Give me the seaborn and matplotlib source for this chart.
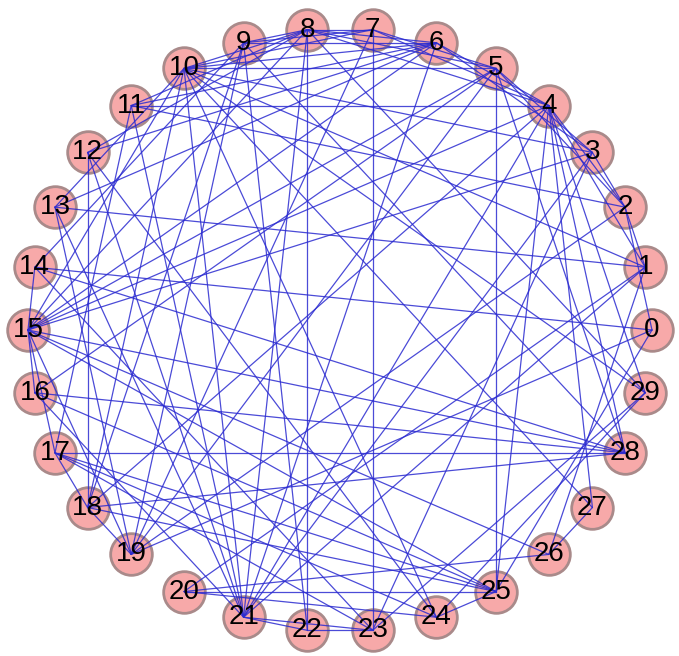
import numpy as np
import pandas as pd
import seaborn as sns
import matplotlib.pyplot as plt

# node ids, placed on a ring (node 0 at the right, counter-clockwise)
nodes = list(range(30))

# edges (src[i] -- dst[i])
src = [8, 8, 8, 8, 8, 8, 8, 8, 8, 8, 8,
       9, 9, 9, 9, 9, 9, 9,
       10, 10, 10, 10, 10, 10, 10, 10, 10, 10, 10, 10,
       11, 11, 11, 11, 11,
       12, 12, 12, 12,
       13, 13, 13, 13,
       14, 14, 14, 14,
       15, 15, 15, 15, 15, 15, 15, 15, 15, 15, 15,
       16, 16, 16, 16,
       17, 17, 17, 17, 17,
       18, 18, 18, 18,
       19, 19, 19, 19,
       20, 20, 20, 20,
       21, 21, 21, 21, 21, 21,
       22,
       23, 23, 23,
       24, 24,
       25, 25, 25,
       26, 26,
       27,
       28, 28,
       29,
       0, 1, 1, 2, 2, 2, 3, 3, 4, 4, 5]
dst = [9, 10, 11, 12, 7, 6, 5, 4, 22, 21, 29,
       7, 6, 18, 22, 14, 28, 19,
       7, 6, 5, 29, 27, 18, 21, 24, 13, 1, 3, 15,
       6, 2, 21, 17, 4,
       18, 6, 21, 24,
       1, 6, 21, 19,
       0, 15, 23, 28,
       16, 6, 5, 4, 3, 8, 28, 26, 25, 19, 17,
       5, 25, 28, 21,
       28, 25, 18, 24, 23,
       28, 25, 19, 4,
       7, 5, 2, 0,
       25, 24, 26, 1,
       22, 23, 3, 6, 4, 1,
       23,
       7, 3, 29,
       25, 29,
       5, 4, 0,
       27, 1,
       4,
       5, 4,
       4,
       2, 2, 4, 3, 5, 4, 5, 6, 6, 7, 7]

# ring layout in pixel space of the 679x656 picture
ang = np.deg2rad(np.array(nodes) * 12.0)
px = 340 + 312 * np.cos(ang)
py = 330 - 302 * np.sin(ang)

rows = []
for i, (a, b) in enumerate(zip(src, dst)):
    rows.append({'edge': i, 'x': px[a], 'y': py[a]})
    rows.append({'edge': i, 'x': px[b], 'y': py[b]})
edges = pd.DataFrame(rows)
node_df = pd.DataFrame({'node': nodes, 'x': px, 'y': py})

sns.set_style('white')
plt.rcParams['font.family'] = ['Liberation Sans', 'DejaVu Sans']

fig = plt.figure(figsize=(6.79, 6.56), dpi=100)
ax = fig.add_axes([0, 0, 1, 1])

sns.scatterplot(data=node_df, x='x', y='y', s=900, color='#f7a9a9',
                edgecolor='#a98a8a', linewidth=2, ax=ax, zorder=2, legend=False)
sns.lineplot(data=edges, x='x', y='y', units='edge', estimator=None, sort=False,
             color='#2b2bd0', lw=0.9, alpha=0.85, ax=ax, zorder=3, legend=False)

for n, x, y in zip(nodes, px, py):
    ax.text(x, y, str(n), ha='center', va='center', fontsize=20, color='black', zorder=4)

ax.set_xlim(0, 679)
ax.set_ylim(656, 0)
ax.axis('off')

plt.savefig('out.png', dpi=100)
